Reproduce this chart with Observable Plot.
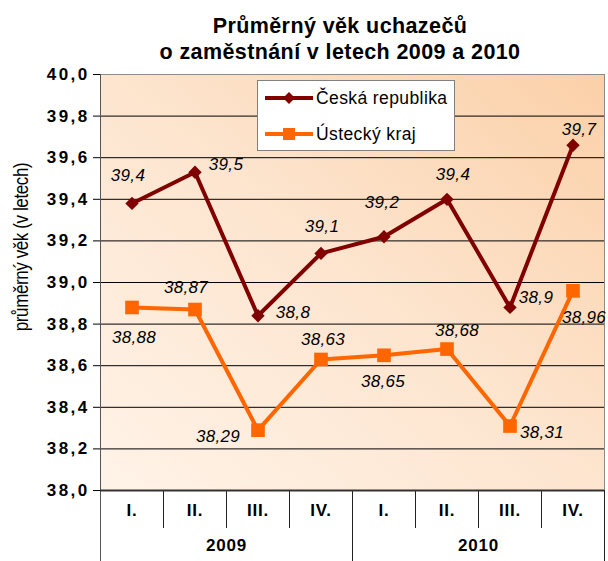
<!DOCTYPE html>
<html>
<head>
<meta charset="utf-8">
<script src="https://cdn.jsdelivr.net/npm/d3@7"></script>
<script src="https://cdn.jsdelivr.net/npm/@observablehq/plot@0.6"></script>
<style>
  html, body { margin: 0; padding: 0; background: #fff; }
  body { font-family: "Liberation Sans", Arial, sans-serif; }
  #wrap { position: relative; width: 608px; height: 561px; overflow: hidden; }
  #title { position: absolute; left: 0; top: 0; box-sizing: border-box; width: 608px; padding-top: 13px; padding-left: 72px;
           text-align: center; font-weight: bold; font-size: 21.5px; line-height: 26px; letter-spacing: 0.4px; color: #000; }
  #chart { position: absolute; left: 0; top: 64px; }
  #ytitle { position: absolute; left: 22px; top: 247px; width: 260px; height: 22px; margin-left: -130px; margin-top: -11px;
            text-align: center; font-size: 17px; line-height: 22px; letter-spacing: -0.4px;
            transform: rotate(-90deg) scaleY(1.2); color: #000; white-space: nowrap; }
  #legend { position: absolute; left: 257px; top: 80px; width: 198px; height: 71px; background: #fff;
            border: 1px solid #808080; box-sizing: border-box; }
  #legend .row { position: absolute; left: 6px; height: 24px; display: flex; align-items: center;
                 font-size: 17.5px; letter-spacing: 0.4px; color: #000; }
  #legend svg { margin-right: 2px; }
  svg.plot text { font-family: "Liberation Sans", Arial, sans-serif; }
  svg.plot [aria-label="y-axis tick label"] text { font-size: 17px; font-weight: bold; letter-spacing: 2.4px; }
  svg.plot g.cat text { font-size: 17px; font-weight: bold; letter-spacing: 0.8px; }
  svg.plot g.lab text { font-size: 17px; font-style: italic; letter-spacing: 0.3px; }
</style>
</head>
<body>
<div id="wrap">
  <div id="title">Průměrný věk uchazečů<br>o zaměstnání v letech 2009 a 2010</div>
  <div id="chart"></div>
  <div id="ytitle"></div>
  <div id="legend"></div>
</div>
<script>
// ---- data ----
const quarters = ["I.", "II.", "III.", "IV.", "I.", "II.", "III.", "IV."];
const years = ["2009", "2010"];
const seriesNames = ["Česká republika", "Ústecký kraj"];
const valuesCR = [39.38, 39.53, 38.84, 39.14, 39.22, 39.40, 38.88, 39.66];
const valuesUK = [38.88, 38.87, 38.29, 38.63, 38.65, 38.68, 38.31, 38.96];
const labelsCR = ["39,4", "39,5", "38,8", "39,1", "39,2", "39,4", "38,9", "39,7"];
const labelsUK = ["38,88", "38,87", "38,29", "38,63", "38,65", "38,68", "38,31", "38,96"];
const yTicks = [38.0, 38.2, 38.4, 38.6, 38.8, 39.0, 39.2, 39.4, 39.6, 39.8, 40.0];
const yTitle = "průměrný věk (v letech)";

// ---- style ----
const colCR = "#800000";
const colUK = "#ff6600";
const offCR = [[-4, -28], [31, -8], [35, -3], [1, -27], [-2, -34], [6, -25], [26, -10], [6, -16]];
const offUK = [[2, 30], [-9, -22], [-40, 6], [2, -20], [-1, 26], [10, -19], [32, 7], [11, 27]];

document.getElementById("ytitle").textContent = yTitle;

const rowsCR = valuesCR.map((v, i) => ({i: i + 0.5, v, label: labelsCR[i]}));
const rowsUK = valuesUK.map((v, i) => ({i: i + 0.5, v, label: labelsUK[i]}));
const catRows = quarters.map((q, i) => ({i: i + 0.5, q}));
const yearRows = years.map((y, k) => ({i: k * 4 + 2, y}));

const H = 497, MT = 10, MB = 71;
const innerH = H - MT - MB;

const labelMarks = (rows, offs) => rows.map((r, k) =>
  Plot.text([r], {x: "i", y: "v", text: "label", dx: offs[k][0], dy: offs[k][1],
    fontStyle: "italic", fontSize: 17, fill: "#000", className: "lab"}));

const chart = Plot.plot({
  width: 608,
  height: H,
  marginLeft: 100,
  marginRight: 4,
  marginTop: MT,
  marginBottom: MB,
  style: {background: "transparent", overflow: "visible"},
  x: {domain: [0, 8], axis: null},
  y: {domain: [38, 40], axis: null},
  marks: [
    Plot.frame({fill: "url(#bgGrad)", stroke: null}),
    Plot.ruleY(yTicks.slice(1, -1), {stroke: "#000", strokeWidth: 1}),
    Plot.ruleY([40], {stroke: "#8c8c8c", strokeWidth: 1}),
    Plot.ruleX([8], {stroke: "#8c8c8c", strokeWidth: 1}),
    Plot.axisY({ticks: yTicks, tickFormat: d => d.toFixed(1).replace(".", ","), tickSize: 7, tickPadding: 4,
      fontSize: 17, fontWeight: "bold", stroke: "#000", fill: "#000", label: null}),
    Plot.ruleX([1, 2, 3, 5, 6, 7], {stroke: "#222", strokeWidth: 1, insetTop: innerH, insetBottom: -38}),
    Plot.ruleX([4, 8], {stroke: "#222", strokeWidth: 1, insetTop: innerH, insetBottom: -MB}),
    Plot.ruleX([0], {stroke: "#555", strokeWidth: 1, insetBottom: -MB}),
    Plot.ruleY([38], {stroke: "#333", strokeWidth: 2}),
    Plot.text(catRows, {x: "i", text: "q", frameAnchor: "bottom", dy: 25, fontSize: 17, fontWeight: "bold", fill: "#000", className: "cat"}),
    Plot.text(yearRows, {x: "i", text: "y", frameAnchor: "bottom", dy: 60, fontSize: 17, fontWeight: "bold", fill: "#000", className: "cat"}),
    Plot.line(rowsUK, {x: "i", y: "v", stroke: colUK, strokeWidth: 4, strokeLinejoin: "round"}),
    Plot.line(rowsCR, {x: "i", y: "v", stroke: colCR, strokeWidth: 4, strokeLinejoin: "round"}),
    Plot.dot(rowsUK, {x: "i", y: "v", symbol: "square", r: 7.7, fill: colUK, stroke: null}),
    Plot.dot(rowsCR, {x: "i", y: "v", symbol: "diamond2", r: 6, fill: colCR, stroke: null}),
    ...labelMarks(rowsCR, offCR),
    ...labelMarks(rowsUK, offUK)
  ]
});
chart.classList.add("plot");
const ns = "http://www.w3.org/2000/svg";
const defs = document.createElementNS(ns, "defs");
defs.innerHTML = `<linearGradient id="bgGrad" x1="0" y1="1" x2="1" y2="0">
  <stop offset="0" stop-color="#fff3e8"/>
  <stop offset="0.5" stop-color="#fde5cf"/>
  <stop offset="1" stop-color="#fbd0a8"/>
</linearGradient>`;
chart.insertBefore(defs, chart.firstChild);
document.getElementById("chart").appendChild(chart);

// legend
const legend = document.getElementById("legend");
const legendItems = [
  {name: seriesNames[0], color: colCR, sym: "diamond"},
  {name: seriesNames[1], color: colUK, sym: "square"}
];
legendItems.forEach((it, k) => {
  const row = document.createElement("div");
  row.className = "row";
  row.style.top = (k === 0 ? 5 : 41) + "px";
  const marker = it.sym === "diamond"
    ? `<polygon points="25,6 31,12 25,18 19,12" fill="${it.color}"/>`
    : `<rect x="19" y="6" width="12" height="12" fill="${it.color}"/>`;
  row.innerHTML = `<svg width="50" height="24"><line x1="1" y1="12" x2="49" y2="12" stroke="${it.color}" stroke-width="4"/>${marker}</svg><span>${it.name}</span>`;
  legend.appendChild(row);
});
</script>
</body>
</html>
